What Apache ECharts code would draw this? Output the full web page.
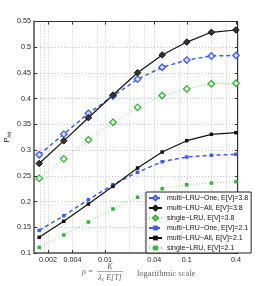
<!DOCTYPE html>
<html><head><meta charset="utf-8">
<script src="https://cdn.jsdelivr.net/npm/echarts@6/dist/echarts.min.js"></script>
<style>html,body{margin:0;padding:0;background:#fff}#c{width:262px;height:286px}</style>
</head><body><div id="c"></div>
<script>
// ---- data ----
const xValues = [0.0015625, 0.003125, 0.00625, 0.0125, 0.025, 0.05, 0.1, 0.2, 0.4];
const seriesNames = [
  'multi\u2212LRU\u2212One, E[V]=3.8',
  'multi\u2212LRU\u2212All, E[V]=3.8',
  'single\u2212LRU, E[V]=3.8',
  'multi\u2212LRU\u2212One, E[V]=2.1',
  'multi\u2212LRU\u2212All, E[V]=2.1',
  'single\u2212LRU, E[V]=2.1'
];
const oneHigh    = [0.291, 0.331, 0.3715, 0.405, 0.438, 0.461, 0.475, 0.483, 0.484];
const allHigh    = [0.274, 0.318, 0.363, 0.407, 0.4505, 0.485, 0.510, 0.529, 0.5335];
const singleHigh = [0.245, 0.283, 0.320, 0.354, 0.383, 0.406, 0.419, 0.429, 0.430];
const oneLow     = [0.144, 0.1725, 0.2036, 0.2327, 0.2569, 0.2775, 0.2866, 0.290, 0.2918];
const allLow     = [0.1305, 0.1616, 0.1952, 0.2296, 0.2652, 0.2963, 0.3183, 0.3307, 0.3338];
const singleLow  = [0.111, 0.135, 0.1602, 0.1855, 0.2083, 0.225, 0.2327, 0.236, 0.2386];
const xTickLabels = [0.002, 0.004, 0.01, 0.04, 0.1, 0.4];
const xGridValues = [0.0014, 0.0016, 0.0018, 0.002, 0.004, 0.008, 0.01, 0.02, 0.03, 0.04, 0.08, 0.1, 0.2, 0.3, 0.4];
const yMin = 0.1, yMax = 0.55, yStep = 0.05;
const xMin = 0.00135, xMax = 0.42;

// ---- styles ----
const BLUE = '#3a5cff', BLACK = '#111', GREENL = '#8cda8c', GREEN = '#2fb52f';
const SANS = 'Liberation Sans, Arial, sans-serif';
const SERIF = 'Liberation Serif, Times New Roman, serif';
const pairs = arr => xValues.map((x, i) => [x, arr[i]]);

const styles = [
  {data: oneHigh, color: BLUE, line: {color: BLUE, width: 1.5, type: [4, 3]}, symbol: 'diamond', size: 6.5, item: {color: '#d8e0ff', borderColor: BLUE, borderWidth: 1.3}},
  {data: allHigh, color: BLACK, line: {color: BLACK, width: 1.2, type: 'solid'}, symbol: 'diamond', size: 6.5, item: {color: '#333', borderColor: BLACK, borderWidth: 1}},
  {data: singleHigh, color: GREEN, line: {color: GREENL, width: 1, type: [1, 2]}, symbol: 'diamond', size: 6.5, item: {color: '#e6f7e6', borderColor: GREEN, borderWidth: 1.3}},
  {data: oneLow, color: BLUE, line: {color: BLUE, width: 1.5, type: [4, 3]}, symbol: 'rect', size: 3.5, item: {color: BLUE, borderColor: BLUE, borderWidth: 0}},
  {data: allLow, color: BLACK, line: {color: BLACK, width: 1.2, type: 'solid'}, symbol: 'rect', size: 3.5, item: {color: BLACK, borderColor: BLACK, borderWidth: 0}},
  {data: singleLow, color: GREEN, line: {color: GREENL, width: 1, type: [1, 2]}, symbol: 'rect', size: 3.5, item: {color: GREEN, borderColor: GREEN, borderWidth: 0}}
];

const series = styles.map((s, i) => ({
  name: seriesNames[i],
  type: 'line',
  xAxisIndex: 0, yAxisIndex: 0,
  data: pairs(s.data),
  symbol: s.symbol, symbolSize: s.size, showSymbol: true,
  lineStyle: s.line,
  itemStyle: s.item,
  color: s.color,
  z: 3
}));

const gridLine = {color: '#c4c4c4', width: 1, type: [1, 2]};

const chart = echarts.init(document.getElementById('c'), null, {renderer: 'canvas'});
chart.setOption({
  animation: false,
  backgroundColor: '#fff',
  grid: {left: 34, right: 24.3, top: 21.5, bottom: 33, show: true, borderColor: '#333', borderWidth: 1,
         backgroundColor: 'transparent', containLabel: false, outerBoundsMode: 'none'},
  xAxis: [
    {type: 'log', logBase: 10, min: xMin, max: xMax, position: 'bottom',
     axisLine: {show: true, lineStyle: {color: '#777', width: 2}},
     axisTick: {show: true, inside: true, length: 3, customValues: xTickLabels, lineStyle: {color: '#333'}},
     axisLabel: {show: true, customValues: xTickLabels, margin: 4, fontSize: 7.2, fontFamily: SANS, color: '#222',
       formatter: v => String(+(+v).toPrecision(3))},
     splitLine: {show: false}, minorTick: {show: false}, minorSplitLine: {show: false}},
    {type: 'log', logBase: 10, min: xMin, max: xMax, position: 'top',
     axisLine: {show: true, lineStyle: {color: '#333', width: 1}},
     axisTick: {show: true, inside: true, length: 3, customValues: xTickLabels, lineStyle: {color: '#333'}},
     axisLabel: {show: false}, splitLine: {show: false}},
    {type: 'log', logBase: 10, min: xMin, max: xMax, position: 'bottom',
     axisLine: {show: false},
     axisTick: {show: false, customValues: xGridValues},
     axisLabel: {show: false},
     splitLine: {show: true, showMinLine: false, showMaxLine: false, lineStyle: gridLine}}
  ],
  yAxis: [
    {type: 'value', min: yMin, max: yMax, interval: yStep, position: 'left',
     name: 'P{s|hit}', nameLocation: 'middle', nameGap: 22, nameRotate: 90, nameMoveOverlap: false,
     nameTextStyle: {fontSize: 8, fontFamily: SANS, color: '#222',
       rich: {s: {fontSize: 5.5, fontFamily: SANS, color: '#222', padding: [5, 0, 0, 0]}}},
     axisLine: {show: true, lineStyle: {color: '#777', width: 2}},
     axisTick: {show: true, inside: true, length: 3, lineStyle: {color: '#333'}},
     axisLabel: {margin: 3, fontSize: 7.2, fontFamily: SANS, color: '#222'},
     splitLine: {show: true, showMinLine: false, showMaxLine: false, lineStyle: gridLine}},
    {type: 'value', min: yMin, max: yMax, interval: yStep, position: 'right',
     axisLine: {show: true, lineStyle: {color: '#333', width: 1}},
     axisTick: {show: true, inside: true, length: 3, lineStyle: {color: '#333'}},
     axisLabel: {show: false}, splitLine: {show: false}}
  ],
  legend: {
    left: 146, top: 192, orient: 'vertical',
    itemWidth: 13, itemHeight: 6, itemGap: 2,
    padding: [2, 3, 1, 2],
    backgroundColor: '#fff', borderColor: '#222', borderWidth: 1, borderRadius: 0,
    textStyle: {fontSize: 7, lineHeight: 8, fontFamily: SANS, color: '#111'},
    data: seriesNames, z: 10
  },
  series: series,
  graphic: [
    {type: 'text', x: 82, y: 272, style: {text: '\u03c1 =', font: 'italic 8px ' + SERIF, fill: '#666', align: 'left', verticalAlign: 'middle'}},
    {type: 'text', x: 110, y: 267, style: {text: 'K', font: 'italic 8px ' + SERIF, fill: '#666', align: 'center', verticalAlign: 'middle'}},
    {type: 'line', shape: {x1: 97, y1: 271.5, x2: 123, y2: 271.5}, style: {stroke: '#888', lineWidth: 0.7}},
    {type: 'text', x: 110, y: 277.5, style: {text: '\u03bb{s|c} E[T]', font: 'italic 8px ' + SERIF, fill: '#666', align: 'center', verticalAlign: 'middle',
      rich: {s: {font: 'italic 5.5px ' + SERIF, fill: '#666', padding: [4, 0, 0, 0]}}}},
    {type: 'text', x: 137, y: 273.5, style: {text: 'logarithmic scale', font: '8.5px ' + SERIF, fill: '#666', align: 'left', verticalAlign: 'middle'}}
  ]
});
</script>
</body></html>
